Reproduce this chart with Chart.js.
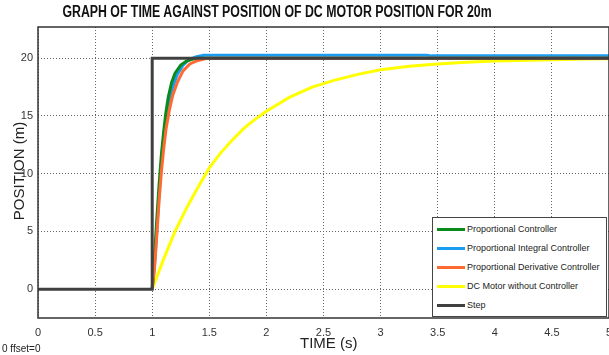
<!DOCTYPE html>
<html>
<head>
<meta charset="utf-8">
<script src="https://cdn.jsdelivr.net/npm/chart.js@4"></script>
<style>
  body { margin: 0; background: #fff; overflow: hidden; }
  #wrap { position: relative; width: 609px; height: 355px; }
  .txt { position: absolute; font-family: "Liberation Sans", Arial, sans-serif; color: #222; white-space: nowrap; }
  #title { left: 277px; top: 3px; transform: translateX(-50%) scaleX(0.77); font-weight: bold; font-size: 16px; color: #111; }
  #xlab { left: 300px; top: 334px; font-size: 15px; }
  #ylab { left: 18px; top: 171px; font-size: 15px; transform: translate(-50%, -50%) rotate(-90deg); }
  #offset { left: 2px; top: 343px; font-size: 10px; }
  #legend { position: absolute; left: 432px; top: 217px; width: 175px; height: 100px; border: 1px solid #444; background: #fff; box-sizing: border-box; }
  .item { position: absolute; left: 4px; height: 12px; font-size: 9px; color: #222; font-family: "Liberation Sans", Arial, sans-serif; }
  .item span { display: inline-block; width: 28px; height: 3px; vertical-align: middle; margin-right: 2px; }
</style>
</head>
<body>
<div id="wrap">
  <canvas id="mychart" width="609" height="355"></canvas>
  <div id="title" class="txt">GRAPH OF TIME AGAINST POSITION OF DC MOTOR POSITION FOR 20m</div>
  <div id="xlab" class="txt">TIME (s)</div>
  <div id="ylab" class="txt">POSITION (m)</div>
  <div id="offset" class="txt">0 ffset=0</div>
  <div id="legend"></div>
</div>
<script>
// tick labels
var xTicks = [0, 0.5, 1, 1.5, 2, 2.5, 3, 3.5, 4, 4.5, 5]
var yTicks = [0, 5, 10, 15, 20]

// step input
var stepT = [0, 1, 1, 5]
var stepY = [0, 0, 20, 20]

// proportional controller
var pT = [1, 1.02, 1.04, 1.06, 1.08, 1.1, 1.12, 1.14, 1.17, 1.2, 1.25, 1.3, 1.35, 1.4, 5]
var pY = [0, 2.8, 6, 9, 11.6, 13.6, 15.3, 16.6, 17.9, 18.7, 19.4, 19.75, 19.9, 20, 20]

// proportional integral controller
var piT = [1, 1.02, 1.04, 1.06, 1.08, 1.1, 1.12, 1.15, 1.18, 1.22, 1.27, 1.32, 1.38, 1.45, 3.4, 3.45, 5]
var piY = [0, 2, 5, 8.2, 10.8, 12.8, 14.6, 16.3, 17.5, 18.6, 19.4, 19.85, 20.1, 20.25, 20.25, 20.2, 20.2]

// proportional derivative controller
var pdT = [1, 1.02, 1.04, 1.06, 1.08, 1.1, 1.12, 1.15, 1.18, 1.22, 1.27, 1.33, 1.4, 1.48, 5]
var pdY = [0, 1.8, 4.6, 7.6, 10.1, 12.1, 13.8, 15.5, 16.8, 17.9, 18.9, 19.5, 19.8, 20, 20]

// motor without controller
var dcT = [1, 1.1, 1.2, 1.3, 1.4, 1.5, 1.6, 1.7, 1.8, 1.9, 2, 2.2, 2.4, 2.6, 2.8, 3, 3.25, 3.5, 3.75, 4, 4.4, 4.8, 5]
var dcY = [0, 2.6, 5, 7, 8.8, 10.5, 11.8, 12.9, 13.9, 14.7, 15.4, 16.6, 17.5, 18.1, 18.6, 19, 19.3, 19.5, 19.65, 19.75, 19.85, 19.93, 19.95]

var names = ['Proportional Controller', 'Proportional Integral Controller', 'Proportional Derivative Controller', 'DC Motor without Controller', 'Step']
var colors = ['#0a8a1a', '#1a9cf0', '#ff6a33', '#ffff00', '#404040']

function pts(t, y) {
    return t.map(function (v, i) { return { x: v, y: y[i] } })
}

var series = [pts(pT, pY), pts(piT, piY), pts(pdT, pdY), pts(dcT, dcY), pts(stepT, stepY)]
var drawOrder = [2, 3, 1, 4, 0]

var datasets = series.map(function (d, i) {
    return {
        label: names[i],
        data: d,
        borderColor: colors[i],
        borderWidth: 3,
        pointRadius: 0,
        fill: false,
        tension: 0,
        order: drawOrder[i]
    }
})

// legend box
var leg = document.getElementById('legend')
names.forEach(function (n, i) {
    var div = document.createElement('div')
    div.className = 'item'
    div.style.top = (6 + i * 19) + 'px'
    div.innerHTML = '<span style="background:' + colors[i] + '"></span>' + n
    leg.appendChild(div)
})

// frame round the plot
var frame = {
    id: 'frame',
    afterDraw: function (chart) {
        var a = chart.chartArea
        var c = chart.ctx
        c.save()
        c.strokeStyle = '#333'
        c.lineWidth = 1.5
        c.strokeRect(a.left, a.top, a.right - a.left, a.bottom - a.top)
        c.restore()
    }
}

var ctx = document.getElementById('mychart').getContext('2d')
var chart = new Chart(ctx, {
    type: 'line',
    data: { datasets: datasets },
    options: {
        responsive: false,
        animation: false,
        layout: { padding: { top: 27, right: -1, left: 0, bottom: 0 } },
        plugins: { legend: { display: false }, tooltip: { enabled: false } },
        scales: {
            x: {
                type: 'linear',
                min: 0,
                max: 5,
                afterBuildTicks: function (s) { s.ticks = xTicks.map(function (v) { return { value: v } }) },
                afterFit: function (s) { s.height = 37; s.paddingRight = 0; s.paddingLeft = 0 },
                grid: { color: '#666', drawTicks: false, lineWidth: 1 },
                border: { display: false, dash: [1, 2] },
                ticks: {
                    padding: 8, maxRotation: 0, autoSkip: false, color: '#333',
                    font: { family: 'Liberation Sans', size: 11 },
                    callback: function (v) { return String(v) }
                }
            },
            y: {
                min: -2.5,
                max: 22.7,
                afterBuildTicks: function (s) { s.ticks = yTicks.map(function (v) { return { value: v } }) },
                afterFit: function (s) { s.width = 38; s.paddingTop = 0; s.paddingBottom = 0 },
                grid: { color: '#666', drawTicks: false, lineWidth: 1 },
                border: { display: false, dash: [1, 2] },
                ticks: { padding: 5, color: '#333', font: { family: 'Liberation Sans', size: 11 } }
            }
        }
    },
    plugins: [frame]
})
</script>
</body>
</html>
